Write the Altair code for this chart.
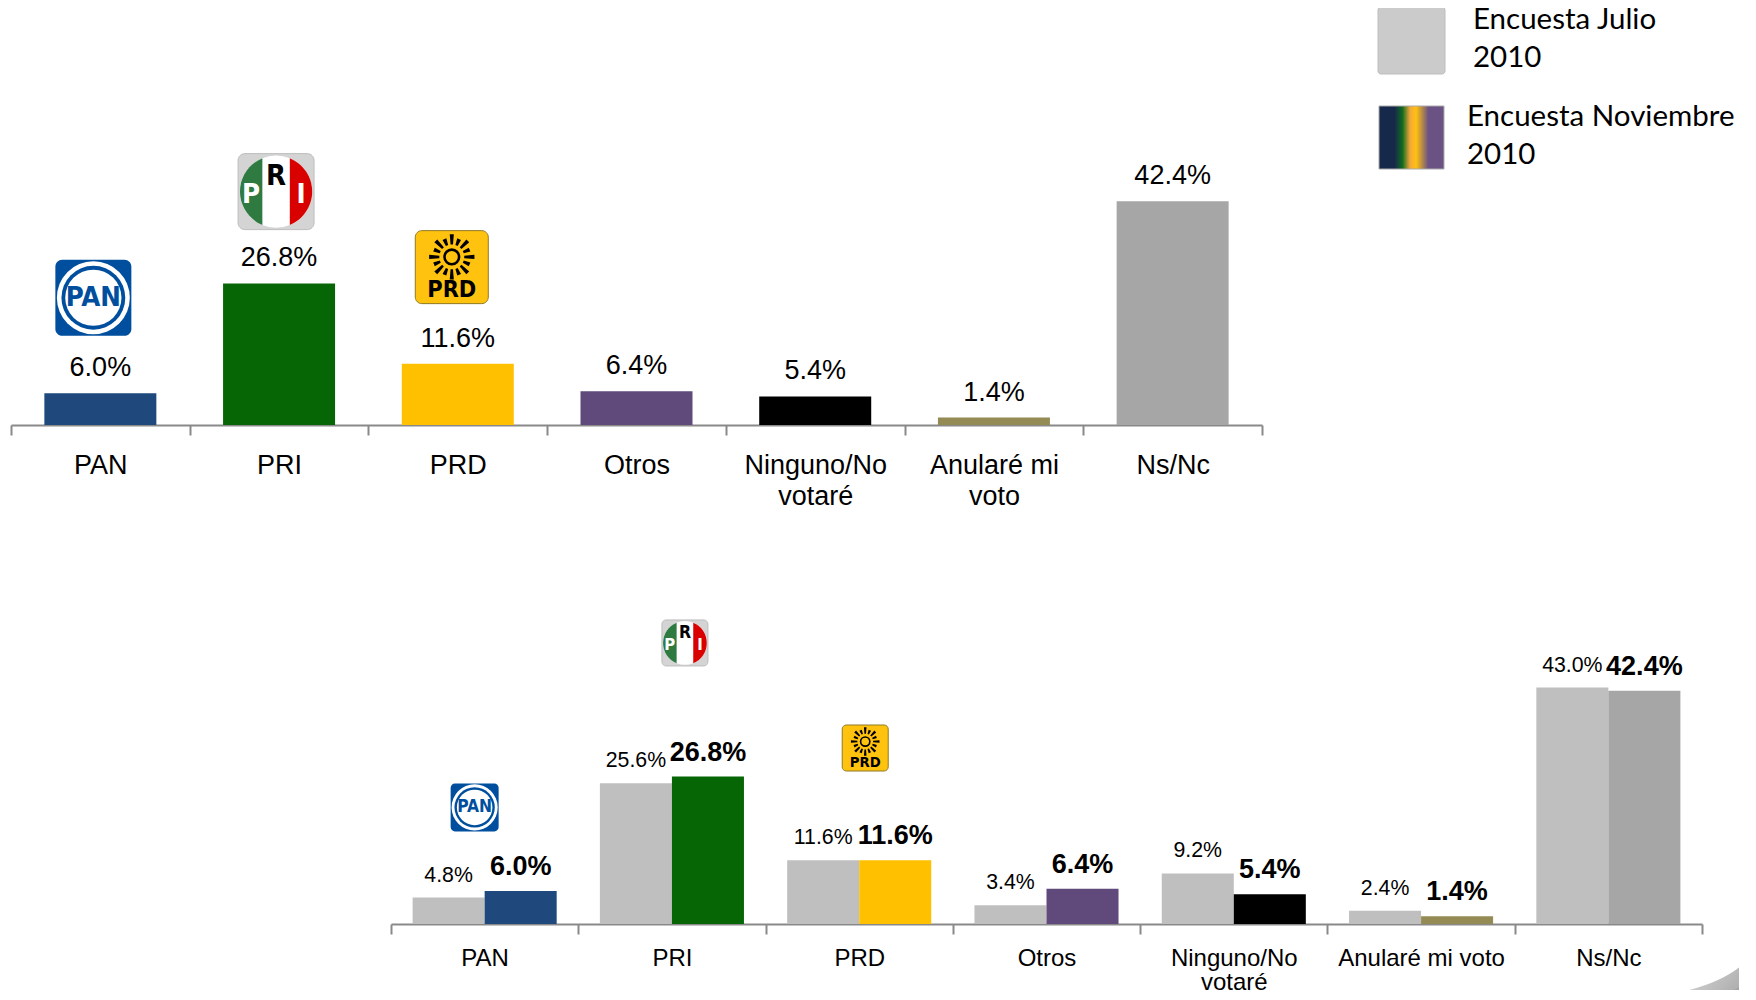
import math
import altair as alt
import pandas as pd

# ---- data ----
cats_top = ["PAN", "PRI", "PRD", "Otros", "Ninguno/No|votaré", "Anularé mi|voto", "Ns/Nc"]
cats_bot = ["PAN", "PRI", "PRD", "Otros", "Ninguno/No|votaré", "Anularé mi voto", "Ns/Nc"]
nov = [6.0, 26.8, 11.6, 6.4, 5.4, 1.4, 42.4]
jul = [4.8, 25.6, 11.6, 3.4, 9.2, 2.4, 43.0]
party_colors = ["#1F497D", "#066606", "#FFC000", "#604A7B", "#000000", "#948A54", "#A6A6A6"]
grey = "#BFBFBF"
series = ["Encuesta Julio 2010", "Encuesta Noviembre 2010"]

FONT = "Liberation Sans"
NARROW = "DejaVu Sans Condensed"

top_df = pd.DataFrame({"cat": cats_top, "v": nov, "color": party_colors})
bot_df = pd.DataFrame(
    {"cat": cats_bot * 2,
     "v": jul + nov,
     "serie": [series[0]] * 7 + [series[1]] * 7,
     "color": [grey] * 7 + party_colors}
)

# ---- shapes (unit square -1..1) ----
RR = ("M-0.82,-1 L0.82,-1 A0.18,0.18 0 0 1 1,-0.82 L1,0.82 A0.18,0.18 0 0 1 0.82,1 "
      "L-0.82,1 A0.18,0.18 0 0 1 -1,0.82 L-1,-0.82 A0.18,0.18 0 0 1 -0.82,-1 Z")
GREEN_SEG = "M-0.38,-0.925 A1,1 0 0 0 -0.38,0.925 Z"
RED_SEG = "M0.38,-0.925 A1,1 0 0 1 0.38,0.925 Z"


def sun_rays():
    parts = []
    for i in range(16):
        a = 2 * math.pi * i / 16
        w = 0.09
        r0, r1 = 0.55, (1.0 if i % 2 == 0 else 0.85)
        c, s = math.cos(a), math.sin(a)
        pts = [(r0 * c - w * 0.6 * s, r0 * s + w * 0.6 * c),
               (r1 * c - w * s, r1 * s + w * c),
               (r1 * c + w * s, r1 * s - w * c),
               (r0 * c + w * 0.6 * s, r0 * s - w * 0.6 * c)]
        parts.append("M" + " L".join(f"{x:.3f},{y:.3f}" for x, y in pts) + " Z")
    return " ".join(parts)


SUN = sun_rays()


def logo(kind, cat, val, dx, s, xenc, yenc):
    base = alt.Chart(pd.DataFrame({"cat": [cat], "v": [val]})).encode(x=xenc, y=yenc)

    def pt(shape, d, color, dy=0, stroke=None, sw=0, filled=True):
        kw = dict(shape=shape, size=d * d, opacity=1, xOffset=dx, yOffset=dy, filled=filled)
        if filled:
            kw["fill"] = color
            if stroke:
                kw.update(stroke=stroke, strokeWidth=sw)
            else:
                kw["strokeWidth"] = 0
        else:
            kw.update(stroke=color, strokeWidth=sw)
        return base.mark_point(**kw)

    def txt(t, size, color, ddx=0, ddy=0, font=NARROW):
        return base.mark_text(text=t, font=font, fontWeight="bold", fontSize=size, color=color,
                              align="center", baseline="middle", dx=dx + ddx, dy=ddy)

    if kind == "PAN":
        return [pt(RR, s, "#004F9E"),
                pt("circle", 0.96 * s, "#FFFFFF"),
                pt("circle", 0.84 * s, "#004F9E"),
                pt("circle", 0.74 * s, "#FFFFFF"),
                txt("PAN", 0.36 * s, "#004F9E")]
    if kind == "PRI":
        return [pt(RR, s, "#D4D4D4", stroke="#BDBDBD", sw=1),
                pt("circle", 0.95 * s, "#FFFFFF"),
                pt(GREEN_SEG, 0.95 * s, "#2E7A41"),
                pt(RED_SEG, 0.95 * s, "#D90000"),
                txt("P", 0.36 * s, "#FFFFFF", -0.33 * s, 0.05 * s),
                txt("R", 0.38 * s, "#000000", 0, -0.21 * s),
                txt("I", 0.36 * s, "#FFFFFF", 0.33 * s, 0.05 * s)]
    return [pt(RR, s, "#FFC20E", stroke="#8F7A22", sw=1),
            pt(SUN, 0.62 * s, "#000000", dy=-0.14 * s),
            pt("circle", 0.2 * s, "#000000", dy=-0.14 * s, filled=False, sw=max(1.2, s * 0.035)),
            txt("PRD", 0.32 * s, "#000000", 0, 0.32 * s)]


# ---- top chart ----
PX_TOP = 5.28
H_TOP = 418
x_top = alt.X(
    "cat:N", sort=cats_top, title=None,
    scale=alt.Scale(domain=cats_top, range=[3, 1254], paddingInner=0, paddingOuter=0),
    axis=alt.Axis(labelExpr="split(datum.label,'|')", labelAngle=0, labelFont=FONT, labelFontSize=27,
                  labelColor="#000000", labelLimit=0, labelPadding=17, labelLineHeight=31,
                  tickBand="extent", tickColor="#898989", tickWidth=2, tickSize=10,
                  domainColor="#898989", domainWidth=2, grid=False),
)
y_top = alt.Y("v:Q", title=None, axis=None, scale=alt.Scale(domain=[0, H_TOP / PX_TOP], nice=False, zero=True))

tb = alt.Chart(top_df).encode(x=x_top, y=y_top)
top_bars = tb.mark_bar(size=112).encode(color=alt.Color("color:N", scale=None))
top_labels = tb.transform_calculate(lbl="format(datum.v,'.1f')+'%'").mark_text(
    font=FONT, fontSize=27, color="#000000", baseline="bottom", dy=-11
).encode(text="lbl:N")

# legend block, upper right
sw1 = alt.Chart(pd.DataFrame({"k": [series[0]]})).mark_rect(
    color="#CBCBCB", cornerRadius=3, stroke="#BDBDBD", strokeWidth=1
).encode(x=alt.value(1370), x2=alt.value(1437), y=alt.value(0), y2=alt.value(67))
gradient = alt.Gradient(
    gradient="linear", x1=0, x2=1, y1=0, y2=0,
    stops=[alt.GradientStop(offset=0.0, color="#17294A"),
           alt.GradientStop(offset=0.24, color="#17294A"),
           alt.GradientStop(offset=0.36, color="#0F6B1F"),
           alt.GradientStop(offset=0.48, color="#F5A83A"),
           alt.GradientStop(offset=0.57, color="#FFC20E"),
           alt.GradientStop(offset=0.76, color="#6B5285"),
           alt.GradientStop(offset=1.0, color="#6B5285")],
)
sw2 = alt.Chart(pd.DataFrame({"k": [series[1]]})).mark_rect(
    color=gradient, stroke="#AAAAAA", strokeWidth=1
).encode(x=alt.value(1371), x2=alt.value(1436), y=alt.value(99), y2=alt.value(162))


def legend_text(t, x, y):
    return alt.Chart(pd.DataFrame({"t": [t]})).mark_text(
        font="Lato", fontSize=29.5, color="#000000", align="left", baseline="middle", x=x, y=y
    ).encode(text="t:N")


leg = [legend_text("Encuesta Julio", 1465, 13), legend_text("2010", 1465, 51),
       legend_text("Encuesta Noviembre", 1459, 110), legend_text("2010", 1459, 148)]

logos_top = (logo("PAN", "PAN", 24.1, -7, 76, x_top, y_top)
             + logo("PRI", "PRI", 44.2, -3, 76, x_top, y_top)
             + logo("PRD", "PRD", 29.9, -6, 73, x_top, y_top))

top = alt.layer(top_bars, top_labels, *logos_top, sw1, sw2, *leg).properties(width=1740, height=H_TOP)

# ---- bottom chart ----
PX_BOT = 5.5
H_BOT = 385
x_bot = alt.X(
    "cat:N", sort=cats_bot, title=None,
    scale=alt.Scale(domain=cats_bot, range=[383, 1694], paddingInner=0, paddingOuter=0),
    axis=alt.Axis(labelExpr="split(datum.label,'|')", labelAngle=0, labelFont=FONT, labelFontSize=24,
                  labelColor="#000000", labelLimit=0, labelPadding=12, labelLineHeight=24,
                  tickBand="extent", tickColor="#898989", tickWidth=2, tickSize=10,
                  domainColor="#898989", domainWidth=2, grid=False),
)
y_bot = alt.Y("v:Q", title=None, axis=None, scale=alt.Scale(domain=[0, H_BOT / PX_BOT], nice=False, zero=True))
xo = alt.XOffset("serie:N", scale=alt.Scale(domain=series, paddingInner=0, paddingOuter=0.3), sort=series)

bb = alt.Chart(bot_df).encode(x=x_bot, y=y_bot, xOffset=xo)
bot_bars = bb.mark_bar().encode(color=alt.Color("color:N", scale=None))
lab = bb.transform_calculate(lbl="format(datum.v,'.1f')+'%'")
lab_j = lab.transform_filter(alt.datum.serie == series[0]).mark_text(
    font=FONT, fontSize=21.3, color="#000000", baseline="bottom", dy=-12
).encode(text="lbl:N")
lab_n = lab.transform_filter(alt.datum.serie == series[1]).mark_text(
    font=FONT, fontSize=27, fontWeight="bold", color="#000000", baseline="bottom", dy=-10
).encode(text="lbl:N")

logos_bot = (logo("PAN", "PAN", 21.2, -10, 48, x_bot, y_bot)
             + logo("PRI", "PRI", 51.1, 13, 46, x_bot, y_bot)
             + logo("PRD", "PRD", 32.0, 6, 46, x_bot, y_bot))

# slide corner swoosh
SW_LIGHT = "M-0.67,0.25 Q0.3,0.17 0.56,-0.25 L0.56,0.25 Z"
SW_DARK = "M0,0.25 Q0.3,0.2 0.56,0.05 L0.56,0.25 Z"
g_light = alt.Gradient(gradient="linear", x1=0, x2=1, y1=0, y2=0.4,
                       stops=[alt.GradientStop(offset=0, color="#FFFFFF"),
                              alt.GradientStop(offset=1, color="#B0B0B0")])
g_dark = alt.Gradient(gradient="linear", x1=0, x2=1, y1=0, y2=0,
                      stops=[alt.GradientStop(offset=0, color="#D0D0D0"),
                             alt.GradientStop(offset=1, color="#8C8C8C")])


def swoosh(path, grad):
    return alt.Chart(pd.DataFrame({"k": ["s"]})).mark_point(
        shape=path, size=40000, filled=True, fill=grad, opacity=1, strokeWidth=0
    ).encode(x=alt.value(1692), y=alt.value(435))


bottom = alt.layer(swoosh(SW_LIGHT, g_light), swoosh(SW_DARK, g_dark), bot_bars, lab_j, lab_n, *logos_bot).properties(
    width=1740, height=H_BOT
)

chart = (
    alt.vconcat(top, bottom, spacing=114, bounds="flush")
    .resolve_scale(x="independent", y="independent")
    .configure_view(stroke=None)
    .properties(padding={"left": 0, "top": -3, "right": -17, "bottom": -9}, background="#FFFFFF")
)

chart.save("out.html", embed_options={"renderer": "svg", "actions": False})
